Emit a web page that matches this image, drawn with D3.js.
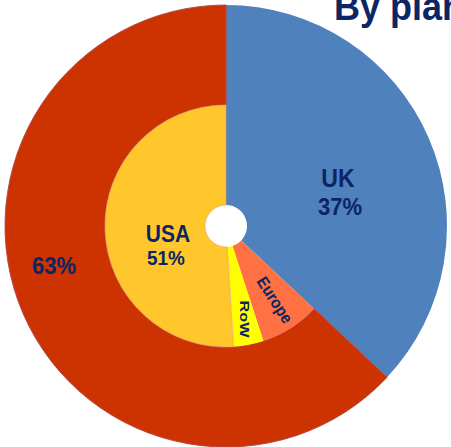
<!DOCTYPE html>
<html><head><meta charset="utf-8">
<script src="https://cdn.jsdelivr.net/npm/d3@7"></script>
<style>html,body{margin:0;padding:0;background:#fff;overflow:hidden}</style>
</head><body>
<svg id="c" width="451" height="447"></svg>
<script>
const outerCategories = ["UK", "Other"];
const outerValues = [37, 63];
const outerLabels = ["37%", "63%"];
const innerCategories = ["UK", "Europe", "RoW", "USA"];
const innerValues = [37, 8, 4, 51];
const innerLabels = ["", "", "", "51%"];
const titleText = "By plant";

const colors = {UK: "#4F81BD", Other: "#CC3300", Europe: "#FF7043", RoW: "#FFFF00", USA: "#FFC72C"};
const textColor = "#0B2565";
const cx = 226, cy = 226, R = 221, r = 121, hole = 21;

const svg = d3.select("#c");
const font = "'Liberation Sans', Arial, sans-serif";

svg.append("g").attr("transform", "translate(334,20) scale(1,1.1)")
  .append("text").attr("x", 0).attr("y", 0)
  .attr("font-family", font).attr("font-weight", "bold").attr("font-size", 36)
  .attr("fill", textColor).text(titleText);

const g = svg.append("g").attr("transform", `translate(${cx},${cy})`);
const pie = d3.pie().sort(null).value(d => d.v);

const outer = pie(outerCategories.map((c, i) => ({c, v: outerValues[i]})));
const inner = pie(innerCategories.map((c, i) => ({c, v: innerValues[i]})));

// outer ring
g.selectAll("path.o").data(outer).join("path").attr("class", "o")
  .attr("d", d => d3.arc().innerRadius(d.data.c === "UK" ? hole : r).outerRadius(R)(d))
  .attr("fill", d => colors[d.data.c])
  .attr("stroke", d => d.data.c === "UK" ? "none" : "#B9474A")
  .attr("stroke-width", 1);

// inner pie
g.selectAll("path.i").data(inner.filter(d => d.data.c !== "UK")).join("path").attr("class", "i")
  .attr("d", d3.arc().innerRadius(hole).outerRadius(r))
  .attr("fill", d => colors[d.data.c])
  .attr("stroke", d => d.data.c === "USA" ? "#E8A070" : "none")
  .attr("stroke-width", 0.6);

function label(x, y, rot, sx, sy, size, lines, lh) {
  const t = svg.append("g").attr("transform", `translate(${x},${y}) rotate(${rot})`)
    .append("g").attr("transform", `scale(${sx},${sy})`)
    .append("text").attr("text-anchor", "middle")
    .attr("font-family", font).attr("font-weight", "bold").attr("font-size", size)
    .attr("fill", textColor);
  lines.forEach((s, i) => t.append("tspan").attr("x", 0).attr("y", i * lh).text(s));
}

label(338, 187, 0, 1.05, 1.17, 22, [outerCategories[0]], 0);
label(340, 215, 0, 1.05, 1.17, 21, [outerLabels[0]], 0);
label(54, 274, 0, 1.05, 1.17, 21, [outerLabels[1]], 0);
label(168, 242, 0, 1.05, 1.17, 20, [innerCategories[3]], 0);
label(166, 265, 0, 1.05, 1.17, 18, [innerLabels[3]], 0);
label(270, 303, 57, 1, 1.1, 15, [innerCategories[1]], 0);
label(240, 319, 90, 1.2, 1, 13.5, [innerCategories[2]], 0);
</script>
</body></html>
